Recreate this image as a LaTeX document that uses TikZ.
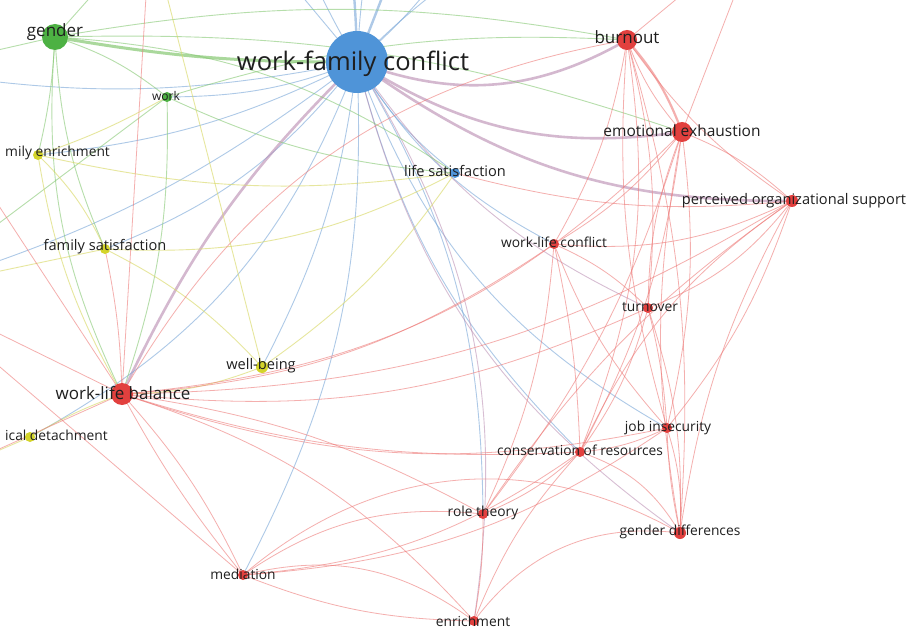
\documentclass[tikz,border=0pt]{standalone}
\usepackage{fontspec}
\setmainfont{Open Sans}
\usetikzlibrary{backgrounds}
\definecolor{nred}{HTML}{E2403E}
\definecolor{nblue}{HTML}{4F94D8}
\definecolor{ngreen}{HTML}{4DB143}
\definecolor{nyellow}{HTML}{D4D42A}
\definecolor{ered}{HTML}{EE7A78}
\definecolor{eblue}{HTML}{78A6D8}
\definecolor{egreen}{HTML}{86C873}
\definecolor{eyellow}{HTML}{DADA6A}
\definecolor{epurple}{HTML}{B88AB0}
\tikzset{
  dot/.style={circle, inner sep=0pt, draw=none},
  rdot/.style={dot, fill=nred},
  bdot/.style={dot, fill=nblue},
  gdot/.style={dot, fill=ngreen},
  ydot/.style={dot, fill=nyellow},
  lab/.style={inner sep=0pt, text=black!88, font=\fontsize{13.8}{16}\selectfont},
  labW/.style={lab, font=\fontsize{14.6}{17}\selectfont},
  labM/.style={lab, font=\fontsize{17}{20}\selectfont},
  labL/.style={lab, font=\fontsize{25.5}{29}\selectfont},
  labS/.style={lab, font=\fontsize{12}{14}\selectfont},
  eR/.style={draw=ered, opacity=.6, line width=.8pt},
  eRt/.style={draw=ered, opacity=.6, line width=2.2pt},
  eB/.style={draw=eblue, opacity=.6, line width=.9pt},
  eBt/.style={draw=eblue, opacity=.6, line width=2.4pt},
  eG/.style={draw=egreen, opacity=.6, line width=.9pt},
  eGt/.style={draw=egreen, opacity=.7, line width=3pt},
  eY/.style={draw=eyellow, opacity=.65, line width=.9pt},
  eP/.style={draw=epurple, opacity=.55, line width=.9pt},
  ePt/.style={draw=epurple, opacity=.6, line width=2.6pt},
}
\begin{document}
\begin{tikzpicture}[x=1pt,y=-1pt]
\useasboundingbox (0,0) rectangle (912,636);
% nodes (circles)
\node[gdot, minimum size=26pt] (gender) at (55,37) {};
\node[bdot, minimum size=62pt] (wfc) at (357,62) {};
\node[rdot, minimum size=20pt] (burnout) at (627,40) {};
\node[gdot, minimum size=10pt] (work) at (167,97) {};
\node[ydot, minimum size=10pt] (fenr) at (38,155) {};
\node[rdot, minimum size=20pt] (emex) at (682,132) {};
\node[bdot, minimum size=10pt] (lsat) at (455,173) {};
\node[rdot, minimum size=12pt] (pos) at (792,201) {};
\node[ydot, minimum size=10pt] (fsat) at (105,249) {};
\node[rdot, minimum size=10pt] (wlc) at (554,244) {};
\node[rdot, minimum size=10pt] (turn) at (648,308) {};
\node[ydot, minimum size=12pt] (wb) at (262,367) {};
\node[rdot, minimum size=22pt] (wlb) at (122,394) {};
\node[ydot, minimum size=10pt] (pdet) at (30,437) {};
\node[rdot, minimum size=10pt] (jins) at (667,428) {};
\node[rdot, minimum size=10pt] (cor) at (580,452) {};
\node[rdot, minimum size=10pt] (rt) at (483,514) {};
\node[rdot, minimum size=12pt] (gd) at (680,533) {};
\node[rdot, minimum size=10pt] (med) at (243,575) {};
\node[rdot, minimum size=10pt] (enr) at (474,621) {};
% off-canvas ends
\coordinate (offL1) at (-90,70);
\coordinate (offL2) at (-90,290);
\coordinate (offL3) at (-70,480);
\coordinate (offT1) at (230,-90);
\coordinate (offT2) at (420,-100);
\coordinate (offT3) at (560,-80);
\coordinate (offT4) at (150,-70);
\coordinate (offT5) at (760,-70);
\coordinate (offT6) at (290,-80);
\coordinate (offT7) at (340,-100);
\coordinate (offT8) at (380,-100);
\coordinate (offT9) at (470,-70);
% labels
\node[labM] (gender-l) at (55,32) {gender};
\node[labL] (wfc-l) at (353,64) {work-family conflict};
\node[labM] (burnout-l) at (627,37) {burnout};
\node[labS] (work-l) at (166,96) {work};
\node[lab, anchor=west] (fenr-l) at (5,153) {mily enrichment};
\node[lab, font=\fontsize{15.5}{18}\selectfont] (emex-l) at (682,131) {emotional exhaustion};
\node[labW] (lsat-l) at (455,171) {life satisfaction};
\node[labW] (pos-l) at (794,201) {perceived organizational support};
\node[labW] (fsat-l) at (105,247) {family satisfaction};
\node[lab] (wlc-l) at (554,242) {work-life conflict};
\node[lab] (turn-l) at (650,307) {turnover};
\node[labW] (wb-l) at (261,366) {well-being};
\node[labM] (wlb-l) at (123,393) {work-life balance};
\node[lab, anchor=west] (pdet-l) at (5,435) {ical detachment};
\node[lab] (jins-l) at (668,428) {job insecurity};
\node[lab] (cor-l) at (580,450) {conservation of resources};
\node[lab] (rt-l) at (483,513) {role theory};
\node[lab] (gd-l) at (680,532) {gender differences};
\node[lab] (med-l) at (243,574) {mediation};
\node[lab] (enr-l) at (473,621) {enrichment};
% edges
\begin{pgfonlayer}{background}
\fill[white] (0,0) rectangle (912,636);
\begin{scope}
\clip (0,0) rectangle (912,636);
\foreach \a/\b/\s/\bd in {
 wfc/gender/eGt/5, wfc/work/eB/10, wfc/fenr/eB/10, wfc/fsat/eB/15, wfc/wlb/ePt/-10,
 wfc/wb/eB/10, wfc/lsat/eB/-10, wfc/wlc/eB/-15, wfc/turn/eP/-15, wfc/jins/eB/-20,
 wfc/cor/eB/-15, wfc/rt/eB/15, wfc/med/eB/15, wfc/enr/eP/20, wfc/gd/eP/-20,
 wfc/burnout/ePt/-25, wfc/emex/ePt/-20, wfc/pos/ePt/-18, wfc/pdet/eB/20,
 wfc/offT1/eB/0, wfc/offT2/eBt/0, wfc/offT3/eB/10, wfc/offL1/eB/10, wfc/offL2/eB/10,
 wfc/offT6/eB/5, wfc/offT7/eBt/-5, wfc/offT8/eB/5, wfc/offT9/eB/-8,
 gender/work/eG/10, gender/fenr/eG/5, gender/fsat/eG/-10, gender/wlb/eG/-15,
 gender/burnout/eG/10, gender/lsat/eG/15, gender/emex/eG/10, gender/offL1/eG/0,
 gender/offT4/eG/0, work/fenr/eY/5, work/lsat/eG/-10, work/burnout/eG/10,
 work/wlb/eG/10, work/offL2/eG/0,
 fenr/fsat/eY/10, fenr/wlb/eY/-10, fenr/lsat/eY/-10, fsat/wb/eY/10, fsat/lsat/eY/-15,
 fsat/wlb/eR/5, fsat/offL2/eY/0, wb/wlb/eY/10, wb/lsat/eY/-10, wb/offT4/eY/0,
 pdet/wlb/eY/5, pdet/offL3/eY/0,
 burnout/emex/eRt/10, burnout/emex/eR/-10, burnout/pos/eR/-10, emex/pos/eR/10,
 burnout/turn/eR/10, burnout/jins/eR/-10, burnout/gd/eR/10, burnout/wlc/eR/10,
 burnout/cor/eR/15, burnout/wlb/eR/-25, burnout/offT5/eR/0,
 emex/jins/eR/10, emex/turn/eR/-10, emex/cor/eR/10, emex/wlb/eR/20, emex/wlc/eR/10,
 emex/rt/eR/10, emex/gd/eR/-10, emex/offT5/eR/0,
 pos/wlc/eR/15, pos/turn/eR/15, pos/jins/eR/10, pos/cor/eR/-15, pos/gd/eR/-10,
 pos/rt/eR/-10, pos/wlb/eR/15, pos/lsat/eR/10,
 wlc/turn/eR/10, wlc/cor/eR/5, wlc/jins/eR/-10, wlc/wlb/eR/15, wlc/rt/eR/10,
 turn/jins/eR/5, turn/gd/eR/10, turn/wlb/eR/15, turn/cor/eR/10,
 jins/gd/eR/10, jins/gd/eR/-5, jins/cor/eR/10, jins/wlb/eR/15, jins/med/eR/15,
 cor/rt/eR/10, cor/enr/eR/-10, cor/med/eR/15, cor/wlb/eR/10, cor/gd/eR/20,
 rt/med/eR/-20, rt/enr/eR/5, rt/wlb/eR/-10,
 med/wlb/eR/5, med/wlb/eR/-8, med/enr/eR/25, med/enr/eR/-10, med/gd/eR/35,
 enr/gd/eR/30, enr/wlb/eR/-15,
 wlb/offL1/eR/0, wlb/offL2/eR/0, wlb/offL3/eR/0, wlb/offT4/eR/0, med/offL2/eR/0}
 { \draw[\s] (\a.center) to[bend left=\bd] (\b.center); }
\end{scope}
\end{pgfonlayer}
\end{tikzpicture}
\end{document}
